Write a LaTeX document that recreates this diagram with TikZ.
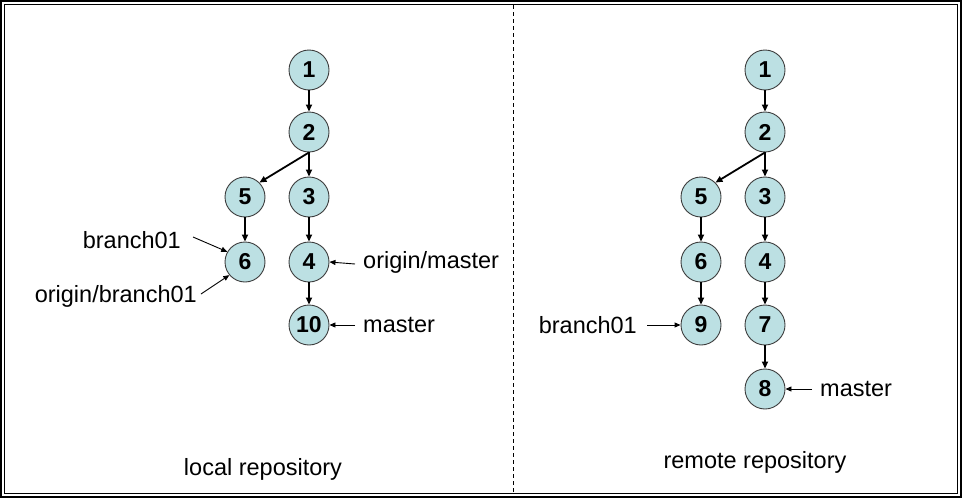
\documentclass[tikz,border=0pt]{standalone}
\usepackage{fontspec}
\setmainfont{Liberation Sans}
\usetikzlibrary{arrows.meta}
\definecolor{commitfill}{RGB}{188,224,227}
\definecolor{commitdraw}{RGB}{60,60,60}
\tikzset{
  commit/.style={circle, draw=commitdraw, line width=0.9pt, fill=commitfill, minimum size=40pt, inner sep=0pt, font=\fontsize{23}{26}\selectfont\bfseries},
  parent/.style={line width=1.8pt, -{Triangle[length=7pt,width=6pt]}},
  pointer/.style={line width=0.9pt, -{Triangle[length=6pt,width=5pt]}},
  lbl/.style={inner sep=0pt, font=\fontsize{23.5}{26}\selectfont},
}
\begin{document}
\begin{tikzpicture}[x=1pt,y=-1pt]
\useasboundingbox (0,0) rectangle (962,498);
% frames
\draw[line width=2pt] (1,1) rectangle (961,497);
\draw[line width=1pt] (4.5,4.5) rectangle (957.5,493.5);
\coordinate (dtop) at (513,5);
\coordinate (dbot) at (513,493);
\draw[line width=0.8pt, dash pattern=on 4pt off 3pt] (dtop) -- (dbot);

% local repository
\node[commit] (l1) at (309,70) {1};
\node[commit] (l2) at (309,132) {2};
\node[commit] (l5) at (245,197) {5};
\node[commit] (l3) at (309,197) {3};
\node[commit] (l6) at (245,262) {6};
\node[commit] (l4) at (309,262) {4};
\node[commit] (l10) at (309,325) {10};
\draw[parent] (l1) -- (l2);
\draw[parent] (l2.south) -- (l3);
\draw[parent] (l2.south) -- (l5.45);
\draw[parent] (l5) -- (l6);
\draw[parent] (l3) -- (l4);
\draw[parent] (l4) -- (l10);

\node[lbl, anchor=east] (lb01) at (181,240) {branch01};
\node[lbl, anchor=east] (lob01) at (197,296) {origin/branch01};
\node[lbl, anchor=west] (lom) at (363,262) {origin/master};
\node[lbl, anchor=west] (lm) at (363,325) {master};
\coordinate (lb01s) at (193,237);
\coordinate (lob01s) at (201,294);
\coordinate (loms) at (355,264);
\coordinate (lms) at (355,325);
\draw[pointer] (lb01s) -- (l6.150);
\draw[pointer] (lob01s) -- (l6.220);
\draw[pointer] (loms) -- (l4.east);
\draw[pointer] (lms) -- (l10.east);

\node[lbl] (llocal) at (263,469) {local repository};

% remote repository
\node[commit] (r1) at (765,70) {1};
\node[commit] (r2) at (765,132) {2};
\node[commit] (r5) at (701,197) {5};
\node[commit] (r3) at (765,197) {3};
\node[commit] (r6) at (701,262) {6};
\node[commit] (r4) at (765,262) {4};
\node[commit] (r9) at (701,325) {9};
\node[commit] (r7) at (765,325) {7};
\node[commit] (r8) at (765,389) {8};
\draw[parent] (r1) -- (r2);
\draw[parent] (r2.south) -- (r3);
\draw[parent] (r2.south) -- (r5.45);
\draw[parent] (r5) -- (r6);
\draw[parent] (r6) -- (r9);
\draw[parent] (r3) -- (r4);
\draw[parent] (r4) -- (r7);
\draw[parent] (r7) -- (r8);

\node[lbl, anchor=east] (rb01) at (637,325) {branch01};
\node[lbl, anchor=west] (rm) at (820,389) {master};
\coordinate (rb01s) at (647,325);
\coordinate (rms) at (812,389);
\draw[pointer] (rb01s) -- (r9.west);
\draw[pointer] (rms) -- (r8.east);

\node[lbl] (rremote) at (755,462) {remote repository};
\end{tikzpicture}
\end{document}
